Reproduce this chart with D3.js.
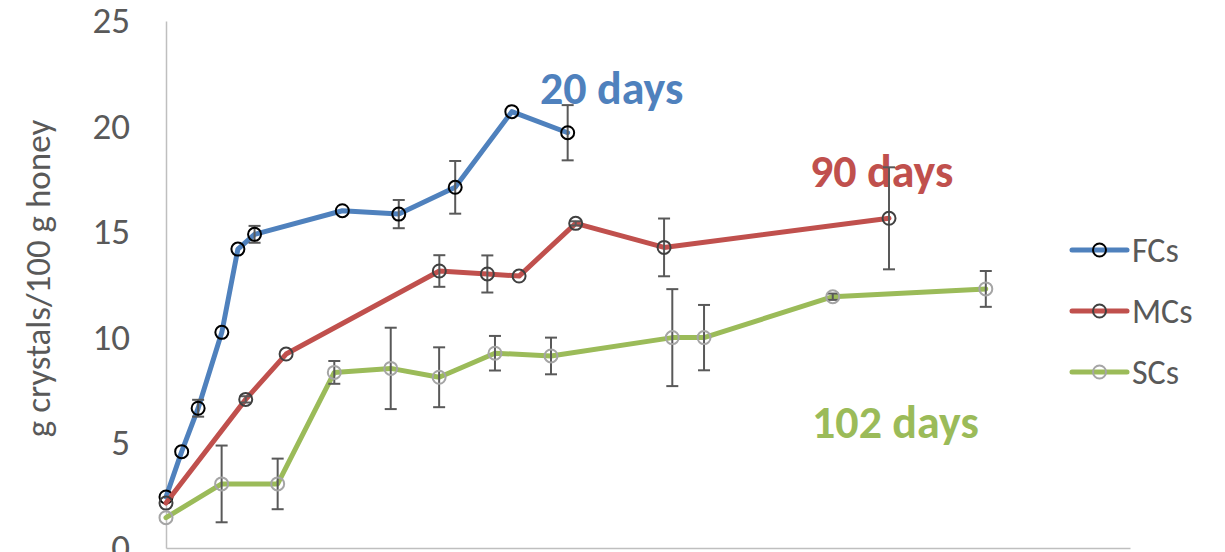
<!DOCTYPE html>
<html>
<head>
<meta charset="utf-8">
<script src="https://cdn.jsdelivr.net/npm/d3@7"></script>
<style>
body { margin: 0; background: #fff; }
svg text { font-family: Carlito, Calibri, Lato, sans-serif; }
</style>
</head>
<body>
<script>
// series names and colours
var seriesNames = ["FCs", "MCs", "SCs"];
var lineColors = ["#4f81bd", "#c0504d", "#9bbb59"];
var markerColors = ["#000000", "#404040", "#a5a5a5"];

// sampling position (axis not labelled in the source), value, error (0 = no bar)
var fcX = [0, 0.78, 1.6, 2.78, 3.58, 4.41, 8.78, 11.59, 14.4, 17.22, 20.0];
var fcY = [2.42, 4.57, 6.63, 10.23, 14.18, 14.88, 16.0, 15.84, 17.11, 20.7, 19.7];
var fcE = [0, 0, 0.4, 0, 0, 0.4, 0, 0.67, 1.25, 0, 1.31];

var mcX = [0, 3.97, 5.98, 13.61, 16.0, 17.58, 20.4, 24.8, 36.0];
var mcY = [2.13, 7.05, 9.2, 13.14, 13.0, 12.9, 15.4, 14.26, 15.64];
var mcE = [0, 0.15, 0, 0.75, 0.88, 0, 0.1, 1.37, 2.42];

var scX = [0, 2.77, 5.56, 8.38, 11.19, 13.6, 16.38, 19.17, 25.21, 26.79, 33.2, 40.82];
var scY = [1.44, 3.04, 3.04, 8.33, 8.52, 8.1, 9.24, 9.11, 9.98, 9.98, 11.92, 12.29];
var scE = [0, 1.82, 1.2, 0.54, 1.93, 1.42, 0.82, 0.87, 2.3, 1.55, 0.15, 0.85];

var yTicks = [0, 5, 10, 15, 20, 25];
var yTitle = "g crystals/100 g honey";

var notes = [
    { text: "20 days", color: lineColors[0], x: 540, y: 104 },
    { text: "90 days", color: lineColors[1], x: 810, y: 187 },
    { text: "102 days", color: lineColors[2], x: 812, y: 438 }
];

var W = 1225, H = 552;
var mLeft = 166, mRight = 1130, mTop = 21, mBottom = 548;

var svg = d3.select("body").append("svg")
    .attr("width", W)
    .attr("height", H);

var x = d3.scaleLinear().domain([0, 48]).range([mLeft, mRight]);
var y = d3.scaleLinear().domain([0, 25]).range([mBottom, mTop]);

// axes
var yAxis = svg.append("g")
    .attr("transform", "translate(" + mLeft + ",0)")
    .call(d3.axisLeft(y).tickValues(yTicks).tickSize(0).tickPadding(36));
yAxis.select(".domain").attr("stroke", "#bfbfbf").attr("stroke-width", 1.5);
yAxis.selectAll("text")
    .attr("fill", "#595959")
    .style("font-size", "37px");

var xAxis = svg.append("g")
    .attr("transform", "translate(0," + mBottom + ")")
    .call(d3.axisBottom(x).tickValues([]).tickSizeOuter(0));
xAxis.select(".domain").attr("stroke", "#bfbfbf").attr("stroke-width", 1.5);

svg.append("text")
    .attr("transform", "translate(50," + ((mTop + mBottom) / 2 - 6) + ") rotate(-90)")
    .attr("text-anchor", "middle")
    .attr("fill", "#595959")
    .style("font-size", "35px")
    .text(yTitle);

// annotations
notes.forEach(function (n) {
    svg.append("text")
        .attr("x", n.x)
        .attr("y", n.y)
        .attr("fill", n.color)
        .style("font-size", "46px")
        .style("font-weight", "bold")
        .text(n.text);
});

var allX = [fcX, mcX, scX];
var allY = [fcY, mcY, scY];
var allE = [fcE, mcE, scE];

function drawSeries(i) {
    var pts = allX[i].map(function (v, j) {
        return { x: v, y: allY[i][j], e: allE[i][j] };
    });
    var g = svg.append("g");
    var line = d3.line()
        .x(function (d) { return x(d.x); })
        .y(function (d) { return y(d.y); });

    g.append("path")
        .datum(pts)
        .attr("fill", "none")
        .attr("stroke", lineColors[i])
        .attr("stroke-width", 5)
        .attr("stroke-linejoin", "round")
        .attr("stroke-linecap", "round")
        .attr("d", line);

    var bars = pts.filter(function (d) { return d.e > 0; });
    var eb = g.selectAll(".err").data(bars).enter().append("g")
        .attr("stroke", "#595959")
        .attr("stroke-width", 2);
    eb.append("line")
        .attr("x1", function (d) { return x(d.x); })
        .attr("x2", function (d) { return x(d.x); })
        .attr("y1", function (d) { return y(d.y + d.e); })
        .attr("y2", function (d) { return y(d.y - d.e); });
    [1, -1].forEach(function (s) {
        eb.append("line")
            .attr("x1", function (d) { return x(d.x) - 6; })
            .attr("x2", function (d) { return x(d.x) + 6; })
            .attr("y1", function (d) { return y(d.y + s * d.e); })
            .attr("y2", function (d) { return y(d.y + s * d.e); });
    });

    g.selectAll("circle").data(pts).enter().append("circle")
        .attr("cx", function (d) { return x(d.x); })
        .attr("cy", function (d) { return y(d.y); })
        .attr("r", 6.5)
        .attr("fill", "none")
        .attr("stroke", markerColors[i])
        .attr("stroke-width", 2);
}

for (var i = 0; i < 3; i++) drawSeries(i);

// legend
var legendY = [250, 311, 372];
seriesNames.forEach(function (name, i) {
    var lg = svg.append("g").attr("transform", "translate(1072," + legendY[i] + ")");
    lg.append("line")
        .attr("x1", 0).attr("x2", 55)
        .attr("stroke", lineColors[i])
        .attr("stroke-width", 5)
        .attr("stroke-linecap", "round");
    lg.append("circle")
        .attr("cx", 27.5).attr("r", 6.5)
        .attr("fill", "none")
        .attr("stroke", markerColors[i])
        .attr("stroke-width", 2);
    lg.append("text")
        .attr("x", 60)
        .attr("y", 11.5)
        .attr("fill", "#595959")
        .style("font-size", "34px")
        .text(name);
});
</script>
</body>
</html>
